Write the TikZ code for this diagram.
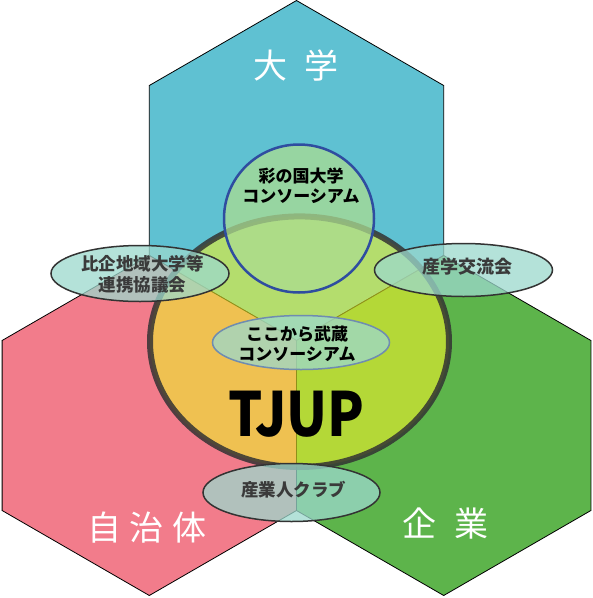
\documentclass[tikz,border=0pt]{standalone}
\usepackage{graphicx}
\usepackage{fontspec}
\newfontfamily\cjk{Noto Sans CJK JP}
\definecolor{hexblue}{HTML}{5FC1D2}
\definecolor{hexpink}{HTML}{F27C8B}
\definecolor{hexgreen}{HTML}{5DB44B}
\definecolor{coreyellow}{HTML}{EEF02B}
\definecolor{ringgray}{HTML}{333333}
\definecolor{saifill}{HTML}{ABDC91}
\definecolor{saiblue}{HTML}{2F4DA0}
\definecolor{ovfill}{HTML}{9CD9CD}
\definecolor{ovline}{HTML}{333333}
\definecolor{midline}{HTML}{6F8CB0}
\definecolor{labelgray}{HTML}{3A3A3A}
\tikzset{
  hexshape/.style={draw=black, line width=0.8pt},
  ovalshape/.style={fill=ovfill, fill opacity=0.75, draw=ovline, line width=1.5pt},
  biglabel/.style={text=white, font={\cjk\fontsize{34}{40}\selectfont}, inner sep=0pt},
  ovlabel/.style={text=labelgray, align=center, inner sep=0pt, font={\cjk\bfseries\fontsize{17.5}{21}\selectfont}},
  blklabel/.style={text=black, align=center, inner sep=0pt, font={\cjk\bfseries\fontsize{17}{20}\selectfont}}
}
\begin{document}
\begin{tikzpicture}[x=1pt,y=-1pt]
\fill[white] (0,0) rectangle (593,598);
\useasboundingbox (0,0) rectangle (593,598);
% hexagon vertices
\coordinate (ta) at (296.5,0.5);
\coordinate (tr1) at (443.7,85.5);
\coordinate (tr2) at (443.7,255.5);
\coordinate (c) at (296.5,340.5);
\coordinate (tl2) at (149.3,255.5);
\coordinate (tl1) at (149.3,85.5);
\coordinate (lb1) at (296.5,510.5);
\coordinate (lb) at (149.3,595.5);
\coordinate (ll2) at (2.1,510.5);
\coordinate (ll1) at (2.1,340.5);
\coordinate (rr1) at (590.9,340.5);
\coordinate (rr2) at (590.9,510.5);
\coordinate (rb) at (443.7,595.5);
% hexagons
\filldraw[hexshape, fill=hexblue] (ta) -- (tr1) -- (tr2) -- (c) -- (tl2) -- (tl1) -- cycle;
\filldraw[hexshape, fill=hexpink] (tl2) -- (c) -- (lb1) -- (lb) -- (ll2) -- (ll1) -- cycle;
\filldraw[hexshape, fill=hexgreen] (tr2) -- (rr1) -- (rr2) -- (rb) -- (lb1) -- (c) -- cycle;
% core ellipse
\coordinate (core) at (299.5,341.7);
\fill[coreyellow, fill opacity=0.6] (core) ellipse [x radius=149.5pt, y radius=125.3pt];
\draw[ringgray, draw opacity=0.85, line width=6pt] (core) ellipse [x radius=149.5pt, y radius=125.3pt];
% saitama circle
\coordinate (sai) at (299,218.5);
\fill[saifill, fill opacity=0.75] (sai) ellipse [x radius=75pt, y radius=74pt];
\draw[saiblue, line width=2.5pt] (sai) ellipse [x radius=75pt, y radius=74pt];
% ovals
\coordinate (oA) at (140,273.5);
\coordinate (oB) at (463.5,270);
\coordinate (oC) at (301,342.5);
\coordinate (oD) at (291.5,492.5);
\filldraw[ovalshape] (oA) ellipse [x radius=89pt, y radius=28pt];
\filldraw[ovalshape] (oB) ellipse [x radius=89pt, y radius=26.5pt];
\filldraw[ovalshape, draw=midline] (oC) ellipse [x radius=88.5pt, y radius=27pt];
\filldraw[ovalshape] (oD) ellipse [x radius=88.5pt, y radius=29pt];
% labels
\node[biglabel] (tDai) at (296,66) {大\hspace{18pt}学};
\node[biglabel] (tJi) at (147,528) {自\hspace{9pt}治\hspace{9pt}体};
\node[biglabel] (tKi) at (445.5,524) {企\hspace{19pt}業};
\node[blklabel] (tSai) at (301,186) {彩の国大学\\コンソーシアム};
\node[blklabel] (tKoko) at (297,344) {ここから武蔵\\コンソーシアム};
\node[ovlabel] (tHiki) at (142.5,274) {比企地域大学等\\連携協議会};
\node[ovlabel, font={\cjk\bfseries\fontsize{18}{21}\selectfont}] (tSan) at (467,267) {産学交流会};
\node[ovlabel] (tClub) at (293.5,490) {産業人クラブ};
\node[inner sep=0pt, font={\cjk\bfseries\fontsize{61}{70}\selectfont}] (tTJUP) at (296.5,414) {\scalebox{0.88}[1]{TJUP}};
\end{tikzpicture}
\end{document}
